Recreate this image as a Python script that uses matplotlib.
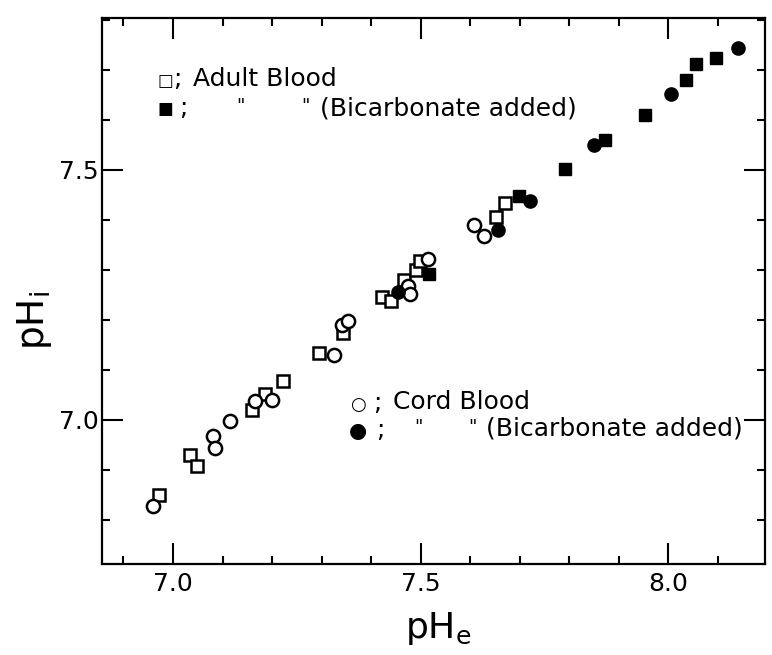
# pHi vs pHe scatter, adult and cord blood
import matplotlib
matplotlib.use('Agg')
import matplotlib.pyplot as plt
from matplotlib.ticker import MultipleLocator

plt.rcParams['font.family'] = ['DejaVu Sans']

# adult blood (open squares)
adult_x = [6.972, 7.034, 7.048, 7.159, 7.186, 7.221, 7.295, 7.344,
           7.421, 7.441, 7.466, 7.491, 7.499, 7.651, 7.670]
adult_y = [6.850, 6.930, 6.908, 7.020, 7.052, 7.077, 7.133, 7.173,
           7.245, 7.237, 7.280, 7.299, 7.317, 7.405, 7.433]

# adult blood, bicarbonate added (filled squares)
adult_bic_x = [7.517, 7.699, 7.791, 7.872, 7.952, 8.035, 8.055, 8.095]
adult_bic_y = [7.292, 7.447, 7.502, 7.560, 7.610, 7.680, 7.712, 7.725]

# cord blood (open circles)
cord_x = [6.960, 7.081, 7.085, 7.115, 7.166, 7.199, 7.325, 7.341,
          7.354, 7.475, 7.478, 7.515, 7.608, 7.628]
cord_y = [6.827, 6.967, 6.944, 6.997, 7.037, 7.039, 7.130, 7.190,
          7.197, 7.268, 7.251, 7.321, 7.389, 7.368]

# cord blood, bicarbonate added (filled circles)
cord_bic_x = [7.455, 7.655, 7.721, 7.850, 8.005, 8.140]
cord_bic_y = [7.255, 7.380, 7.437, 7.549, 7.652, 7.745]

fig = plt.figure(figsize=(7.72, 6.55), dpi=100)
ax = fig.add_axes([0.1317, 0.139, 0.8593, 0.8335])

ax.plot(adult_x, adult_y, 's', ms=8, mfc='white', mec='black', mew=1.8, ls='')
ax.plot(cord_x, cord_y, 'o', ms=9.5, mfc='white', mec='black', mew=1.8, ls='')
ax.plot(adult_bic_x, adult_bic_y, 's', ms=8.5, mfc='black', mec='black', ls='')
ax.plot(cord_bic_x, cord_bic_y, 'o', ms=9.5, mfc='black', mec='black', ls='')

ax.set_xlim(6.856, 8.195)
ax.set_ylim(6.712, 7.804)

ax.xaxis.set_major_locator(MultipleLocator(0.5))
ax.xaxis.set_minor_locator(MultipleLocator(0.1))
ax.yaxis.set_major_locator(MultipleLocator(0.5))
ax.yaxis.set_minor_locator(MultipleLocator(0.1))
ax.xaxis.set_major_formatter(plt.FormatStrFormatter('%.1f'))
ax.yaxis.set_major_formatter(plt.FormatStrFormatter('%.1f'))

ax.tick_params(which='both', direction='in', top=True, right=True, width=1.5, labelsize=18)
ax.tick_params(which='major', length=15)
ax.tick_params(which='minor', length=6)
ax.tick_params(axis='x', pad=6)
ax.tick_params(axis='y', pad=2)
for s in ax.spines.values():
    s.set_linewidth(1.6)

ax.set_xlabel(r'$\mathregular{pH_e}$', fontsize=26)
ax.set_ylabel(r'$\mathregular{pH_i}$', fontsize=27)
ax.xaxis.set_label_coords(0.507, -0.085)
ax.yaxis.set_label_coords(-0.072, 0.447)

# legend written as text, like the original
tsz = 18
def px(x, y):
    # pixel position in the figure -> axes fraction
    return (x - 101.7) / 663.3, 1 - (y - 18) / 546.0

def txt(x, y, s, size=tsz, ha='left'):
    ax.text(*px(x, y), s, transform=ax.transAxes, fontsize=size, ha=ha, va='center')

txt(165, 81, '\u25a1', size=12, ha='center')
txt(173, 79, ';')
txt(193, 79, 'Adult Blood')
txt(165, 109, '\u25a0', size=12, ha='center')
txt(179, 108, ';')
txt(240, 106, '"', size=13, ha='center')
txt(305, 106, '"', size=13, ha='center')
txt(320, 108, '(Bicarbonate added)')

txt(358, 405, '\u25cb', size=13, ha='center')
txt(373, 403, ';')
txt(393, 402, 'Cord Blood')
txt(358, 431, '\u25cf', size=15, ha='center')
txt(376, 430, ';')
txt(418, 427, '"', size=13, ha='center')
txt(472, 427, '"', size=13, ha='center')
txt(486, 429, '(Bicarbonate added)')

fig.savefig('out.png', dpi=100)
